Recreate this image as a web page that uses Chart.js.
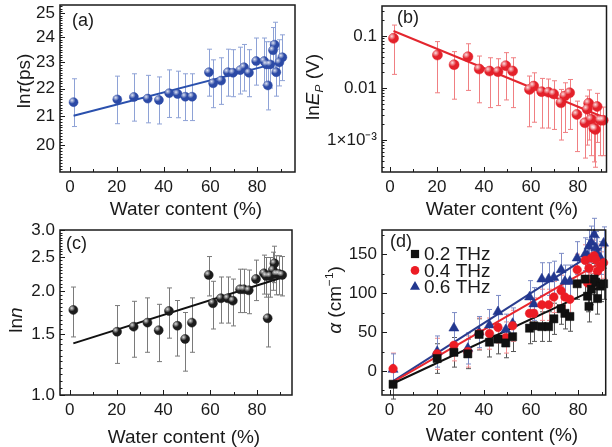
<!DOCTYPE html>
<html>
<head>
<meta charset="utf-8">
<script src="https://cdn.jsdelivr.net/npm/chart.js@4.4.0/dist/chart.umd.min.js"></script>
<style>
html, body { margin: 0; padding: 0; background: #fff; }
#wrap { position: relative; width: 612px; height: 447px; overflow: hidden; }
#wrap canvas { position: absolute; left: 0; top: 0; }
</style>
</head>
<body>
<div id="wrap">
  <canvas id="chartA" width="612" height="447"></canvas>
  <canvas id="chartB" width="612" height="447"></canvas>
  <canvas id="chartC" width="612" height="447"></canvas>
  <canvas id="chartD" width="612" height="447"></canvas>
</div>
<script>
/* ======================
   DATA
====================== */
// water content (%) of each sample, shared by all four panels
const water = [1.5, 20.2, 27.3, 33.2, 38, 42.4, 46, 49.3, 52.2, 59.4, 61.2, 64.6, 67.5, 69.7,
               72.8, 74.4, 76.5, 79.6, 83, 84, 84.6, 85.6, 86.8, 87.5, 88.2, 89.5, 90.8];

// (a) ln tau (ps)
const lnTau = [21.5, 21.6, 21.69, 21.63, 21.58, 21.83, 21.8, 21.7, 21.7, 22.62, 22.2, 22.3, 22.62, 22.6,
               22.7, 22.81, 22.6, 23.05, 23.05, 22.92, 22.12, 22.92, 23.48, 23.7, 22.62, 23.0, 23.2];
const lnTauErr = [0.87, 0.87, 0.87, 0.87, 0.86, 0.88, 0.86, 0.86, 0.86, 0.9, 0.9, 0.88, 0.9, 0.9,
                  0.9, 0.9, 0.9, 0.92, 0.92, 0.9, 0.9, 0.9, 0.92, 0.92, 0.9, 0.9, 0.9];
const fitTauX = [1.5, 89.7];
const fitTauY = [21.01, 23.0];

// (b) ln Ep (V)
const lnEp = [0.0903, 0.0431, 0.0281, 0.040, 0.0232, 0.0212, 0.0206, 0.0269, 0.0212, 0.0094, 0.0109, 0.0085, 0.0083, 0.0077,
              0.0052, 0.0070, 0.0081, 0.0031, 0.00215, 0.0039, 0.0051, 0.0025, 0.00168, 0.0016, 0.0044, 0.0024, 0.0024];
const lnEpErr = [0.072, 0.035, 0.022, 0.031, 0.018, 0.017, 0.016, 0.021, 0.017, 0.0076, 0.0087, 0.0068, 0.0066, 0.0061,
                 0.0042, 0.0056, 0.0065, 0.0025, 0.0017, 0.0031, 0.0041, 0.002, 0.0013, 0.0013, 0.0035, 0.0019, 0.0019];
const fitEpX = [1.5, 89.7];
const fitEpY = [0.125, 0.0029];

// (c) ln n
const lnN = [1.762, 1.524, 1.576, 1.619, 1.539, 1.75, 1.586, 1.452, 1.619, 2.224, 1.842, 1.904, 1.904, 1.874,
             2.021, 2.021, 2.008, 2.165, 2.248, 2.208, 1.667, 2.208, 2.298, 2.403, 2.238, 2.238, 2.224];
const lnNErr = [0.29, 0.29, 0.29, 0.29, 0.29, 0.29, 0.29, 0.28, 0.29, 0.29, 0.29, 0.29, 0.29, 0.29,
                0.29, 0.29, 0.29, 0.29, 0.29, 0.29, 0.29, 0.29, 0.29, 0.29, 0.29, 0.29, 0.29];
const fitNX = [1.5, 89.8];
const fitNY = [1.41, 2.175];

// (d) alpha (cm-1) at three frequencies
const alpha02 = [-17, 16, 24, 22, 47, 37, 41, 36, 44, 55, 58, 57, 57, 67,
                 80, 74, 70, 112, 118, 96, 83, 105, 118, 114, 93, 109, 112];
const alpha04 = [3, 22, 33, 25, 48, 48, 56, 43, 58, 74, 74, 85, 85, 95,
                 103, 95, 92, 130, 142, 113, 132, 145, 148, 143, 128, 133, 139];
const alpha06 = [2, 25, 55, 29, 50, 59, 76, 53, 61, 95, 86, 118, 118, 120,
                 130, 115, 115, 145, 150, 148, 160, 165, 175, 158, 150, 145, 164];
const alpha02Err = [19, 19, 19, 19, 20, 19, 19, 19, 19, 20, 20, 19, 19, 20,
                    20, 20, 19, 20, 20, 20, 20, 20, 20, 20, 20, 20, 20];
const alpha04Err = [20, 20, 20, 20, 20, 20, 20, 20, 20, 20, 20, 20, 20, 20,
                    20, 20, 20, 20, 20, 20, 20, 20, 20, 20, 20, 20, 20];
const alpha06Err = [20, 20, 20, 20, 20, 20, 21, 20, 20, 21, 21, 21, 21, 21,
                    21, 21, 21, 21, 21, 21, 21, 21, 21, 21, 21, 21, 21];
const fitAX = [1.5, 90];
const fitA02Y = [-16, 109];
const fitA04Y = [-14, 140];
const fitA06Y = [-13, 158];
const legendLabels = ["0.2 THz", "0.4 THz", "0.6 THz"];

// tick labels
const waterTicks = [0, 20, 40, 60, 80];
const tauTicks = [20, 21, 22, 23, 24, 25];
const epTicks = [0.001, 0.01, 0.1];
const epTickLabels = ["1×10⁻³", "0.01", "0.1"];
const nTicks = [1.0, 1.5, 2.0, 2.5, 3.0];
const alphaTicks = [0, 50, 100, 150];

/* ======================
   HELPERS
====================== */
const FONT = '"Liberation Sans", Arial, sans-serif';
const YW = 58; // fixed width of every y axis box
Chart.defaults.font.family = FONT;
Chart.defaults.font.size = 17;
Chart.defaults.color = "#1a1a1a";

function pts(xs, ys) {
    return xs.map((x, i) => ({ x: x, y: ys[i] }));
}

// text made of parts: {t, it, sub, sup}
function richWidth(ctx, parts, size) {
    let w = 0;
    parts.forEach(p => {
        const s = (p.sub || p.sup) ? size * 0.62 : size;
        ctx.font = (p.it ? "italic " : "") + s + "px " + FONT;
        w += ctx.measureText(p.t).width;
    });
    return w;
}
function drawRich(ctx, parts, size, cx, cy, rotate) {
    ctx.save();
    ctx.translate(cx, cy);
    if (rotate) ctx.rotate(-Math.PI / 2);
    ctx.fillStyle = "#1a1a1a";
    ctx.textBaseline = "alphabetic";
    ctx.textAlign = "left";
    let x = -richWidth(ctx, parts, size) / 2;
    const base = size * 0.36;
    parts.forEach(p => {
        const s = (p.sub || p.sup) ? size * 0.62 : size;
        ctx.font = (p.it ? "italic " : "") + s + "px " + FONT;
        let y = base;
        if (p.sub) y += size * 0.2;
        if (p.sup) y -= size * 0.42;
        ctx.fillText(p.t, x, y);
        x += ctx.measureText(p.t).width;
    });
    ctx.restore();
}

function drawMarker(ctx, style, r, x, y, fill) {
    ctx.fillStyle = fill;
    ctx.beginPath();
    if (style === "rect") {
        const h = r * Math.SQRT1_2;
        ctx.rect(x - h, y - h, 2 * h, 2 * h);
    } else if (style === "triangle") {
        ctx.moveTo(x, y - r);
        ctx.lineTo(x + 0.866 * r, y + 0.5 * r);
        ctx.lineTo(x - 0.866 * r, y + 0.5 * r);
        ctx.closePath();
    } else {
        ctx.arc(x, y, r, 0, Math.PI * 2);
    }
    ctx.fill();
}

/* ======================
   DECORATION PLUGIN
   error bars, sphere shine, frame, inward ticks, titles
====================== */
const deco = {
    id: "deco",
    beforeDatasetsDraw(chart) {
        const ctx = chart.ctx;
        const ys = chart.scales.y;
        chart.data.datasets.forEach((ds, i) => {
            if (!ds.errors) return;
            const meta = chart.getDatasetMeta(i);
            ctx.save();
            ctx.strokeStyle = ds.errorColor;
            ctx.lineWidth = 1;
            meta.data.forEach((pt, j) => {
                const v = ds.data[j].y, e = ds.errors[j];
                const y1 = ys.getPixelForValue(v + e);
                const y2 = ys.getPixelForValue(v - e);
                const x = Math.round(pt.x) + 0.5;
                ctx.beginPath();
                ctx.moveTo(x, y1); ctx.lineTo(x, y2);
                ctx.moveTo(x - 2.5, y1); ctx.lineTo(x + 2.5, y1);
                ctx.moveTo(x - 2.5, y2); ctx.lineTo(x + 2.5, y2);
                ctx.stroke();
            });
            ctx.restore();
        });
    },
    afterDatasetsDraw(chart) {
        const ctx = chart.ctx;
        chart.data.datasets.forEach((ds, i) => {
            if (!ds.shine) return;
            const r = ds.pointRadius;
            chart.getDatasetMeta(i).data.forEach(pt => {
                const gx = pt.x - r * 0.35, gy = pt.y - r * 0.4;
                const g = ctx.createRadialGradient(gx, gy, 0, gx, gy, r * 0.75);
                g.addColorStop(0, "rgba(255,255,255,0.85)");
                g.addColorStop(1, "rgba(255,255,255,0)");
                ctx.fillStyle = g;
                ctx.beginPath();
                ctx.arc(pt.x, pt.y, r, 0, Math.PI * 2);
                ctx.fill();
            });
        });
    },
    afterDraw(chart, args, o) {
        const ctx = chart.ctx;
        const a = chart.chartArea;
        const xs = chart.scales.x, ys = chart.scales.y;
        ctx.save();
        // frame
        ctx.strokeStyle = "#1a1a1a";
        ctx.lineWidth = 1.5;
        ctx.strokeRect(a.left, a.top, a.right - a.left, a.bottom - a.top);
        // inward ticks
        ctx.lineWidth = 1;
        ctx.beginPath();
        waterTicks.forEach(v => {
            const x = Math.round(xs.getPixelForValue(v)) + 0.5;
            ctx.moveTo(x, a.bottom); ctx.lineTo(x, a.bottom - 5);
        });
        (o.minorX || []).forEach(v => {
            const x = Math.round(xs.getPixelForValue(v)) + 0.5;
            ctx.moveTo(x, a.bottom); ctx.lineTo(x, a.bottom - 3);
        });
        ys.ticks.forEach(t => {
            const y = Math.round(ys.getPixelForValue(t.value)) + 0.5;
            ctx.moveTo(a.left, y); ctx.lineTo(a.left + 5, y);
        });
        (o.minorY || []).forEach(v => {
            const y = Math.round(ys.getPixelForValue(v)) + 0.5;
            ctx.moveTo(a.left, y); ctx.lineTo(a.left + 2.5, y);
        });
        ctx.stroke();
        // panel label
        ctx.fillStyle = "#1a1a1a";
        ctx.font = "18px " + FONT;
        ctx.textAlign = "left";
        ctx.textBaseline = "middle";
        ctx.fillText(o.label, o.labelPos[0], o.labelPos[1]);
        ctx.restore();
        // axis titles
        drawRich(ctx, o.yTitle, 19, o.yTitlePos[0], o.yTitlePos[1], true);
        drawRich(ctx, [{ t: "Water content (%)" }], 19, o.xTitlePos[0], o.xTitlePos[1], false);
        // legend
        if (o.legend) {
            ctx.save();
            ctx.font = "19px " + FONT;
            ctx.textAlign = "left";
            ctx.textBaseline = "middle";
            o.legend.forEach((e, i) => {
                const y = o.legendPos[1] + i * 16.4;
                drawMarker(ctx, e.style, e.r, o.legendPos[0], y, e.color);
                ctx.fillStyle = "#1a1a1a";
                ctx.fillText(e.text, o.legendPos[0] + 9, y + 1);
            });
            ctx.restore();
        }
    }
};

function makeOptions(box, xMin, xMax, yType, yMin, yMax, yTickVals, yFmt, decoOpts) {
    return {
        responsive: false,
        animation: false,
        layout: { padding: { left: box.l - YW, top: box.t, right: 612 - box.r, bottom: 447 - box.b - 30 } },
        plugins: { legend: { display: false }, tooltip: { enabled: false }, deco: decoOpts },
        scales: {
            x: {
                type: "linear", min: xMin, max: xMax,
                grid: { display: false, drawTicks: false },
                border: { display: false },
                ticks: { padding: 5, autoSkip: false, maxRotation: 0, callback: v => String(v) },
                afterBuildTicks: s => { s.ticks = waterTicks.map(v => ({ value: v })); },
                afterFit: s => { s.height = 30; s.paddingLeft = 0; s.paddingRight = 0; }
            },
            y: {
                type: yType, min: yMin, max: yMax,
                grid: { display: false, drawTicks: false },
                border: { display: false },
                ticks: { padding: 5, autoSkip: false, callback: yFmt },
                afterBuildTicks: s => { s.ticks = yTickVals.map(v => ({ value: v })); },
                afterFit: s => { s.width = YW; s.paddingTop = 0; s.paddingBottom = 0; }
            }
        }
    };
}

function scatterSet(ys, errs, color, errColor, style, r, shine) {
    return {
        data: pts(water, ys), errors: errs, errorColor: errColor, shine: shine,
        pointStyle: style, pointRadius: r, pointBackgroundColor: color,
        pointBorderColor: color, pointBorderWidth: 0.5, showLine: false, clip: false
    };
}
function fitSet(xs, ys, color) {
    return {
        data: pts(xs, ys), showLine: true, borderColor: color, borderWidth: 2,
        pointRadius: 0, fill: false
    };
}

const minorWater = [10, 30, 50, 70, 90];

/* ======================
   PANEL (a)
====================== */
const minorTau = [];
for (let v = 19.2; v < 25.35; v += 0.1) {
    const r = Math.round(v * 10) / 10;
    if (r % 1 !== 0) minorTau.push(r);
}
new Chart(document.getElementById("chartA"), {
    type: "scatter",
    data: { datasets: [
        scatterSet(lnTau, lnTauErr, "#2c4aa6", "#8ea2d6", "circle", 4.5, true),
        fitSet(fitTauX, fitTauY, "#2a50ad")
    ] },
    options: makeOptions({ l: 60, t: 5, r: 295, b: 172 }, -4.3, 96.2, "logarithmic", 19.14, 25.35,
        tauTicks, v => String(v), {
            label: "(a)", labelPos: [72, 21],
            yTitle: [{ t: "ln" }, { t: "τ", it: true }, { t: "(ps)" }], yTitlePos: [23, 81],
            xTitlePos: [186, 208], minorX: minorWater, minorY: minorTau
        }),
    plugins: [deco]
});

/* ======================
   PANEL (b)
====================== */
const minorEp = [];
[0.0001, 0.001, 0.01, 0.1].forEach(d => {
    for (let k = 2; k <= 9; k++) {
        const v = d * k;
        if (v > 0.000243 && v < 0.3776) minorEp.push(v);
    }
});
new Chart(document.getElementById("chartB"), {
    type: "scatter",
    data: { datasets: [
        scatterSet(lnEp, lnEpErr, "#e3212a", "#f07f82", "circle", 5, true),
        fitSet(fitEpX, fitEpY, "#e3262e")
    ] },
    options: makeOptions({ l: 382, t: 6, r: 609, b: 172 }, -3.4, 92.2, "logarithmic", 0.000243, 0.3776,
        epTicks, v => epTickLabels[epTicks.indexOf(v)] || "", {
            label: "(b)", labelPos: [397, 18],
            yTitle: [{ t: "ln" }, { t: "E", it: true }, { t: "P", it: true, sub: true }, { t: " (V)" }],
            yTitlePos: [312, 87], xTitlePos: [502, 208], minorX: minorWater, minorY: minorEp
        }),
    plugins: [deco]
});

/* ======================
   PANEL (c)
====================== */
const minorN = [];
for (let v = 1.05; v < 3; v += 0.05) {
    const r = Math.round(v * 100) / 100;
    if (Math.round(r * 100) % 50 !== 0) minorN.push(r);
}
new Chart(document.getElementById("chartC"), {
    type: "scatter",
    data: { datasets: [
        scatterSet(lnN, lnNErr, "#1c1c1c", "#7a7a7a", "circle", 4.5, true),
        fitSet(fitNX, fitNY, "#111111")
    ] },
    options: makeOptions({ l: 60, t: 230, r: 292, b: 395 }, -4.2, 95, "logarithmic", 1, 3,
        nTicks, v => Number(v).toFixed(1), {
            label: "(c)", labelPos: [66, 244],
            yTitle: [{ t: "ln" }, { t: "n", it: true }], yTitlePos: [15, 320],
            xTitlePos: [184, 436], minorX: minorWater, minorY: minorN
        }),
    plugins: [deco]
});

/* ======================
   PANEL (d)
====================== */
new Chart(document.getElementById("chartD"), {
    type: "scatter",
    data: { datasets: [
        scatterSet(alpha02, alpha02Err, "#111111", "#555555", "rect", 5.8, false),
        scatterSet(alpha04, alpha04Err, "#ec1c24", "#f28a8e", "circle", 4.3, false),
        scatterSet(alpha06, alpha06Err, "#22378f", "#7d8cc6", "triangle", 5.8, false),
        fitSet(fitAX, fitA02Y, "#111111"),
        fitSet(fitAX, fitA04Y, "#e8262e"),
        fitSet(fitAX, fitA06Y, "#2a3d8f")
    ] },
    options: makeOptions({ l: 382, t: 230, r: 609, b: 395 }, -3.2, 91.7, "linear", -30.8, 181,
        alphaTicks, v => String(v), {
            label: "(d)", labelPos: [390, 242],
            yTitle: [{ t: "α", it: true }, { t: " (cm" }, { t: "−1", sup: true }, { t: ")" }],
            yTitlePos: [334, 300], xTitlePos: [502, 434],
            minorX: minorWater, minorY: [-25, 25, 75, 125, 175],
            legend: [
                { style: "rect", r: 5.8, color: "#111111", text: legendLabels[0] },
                { style: "circle", r: 4.3, color: "#ec1c24", text: legendLabels[1] },
                { style: "triangle", r: 5.8, color: "#22378f", text: legendLabels[2] }
            ],
            legendPos: [415, 254]
        }),
    plugins: [deco]
});
</script>
</body>
</html>
